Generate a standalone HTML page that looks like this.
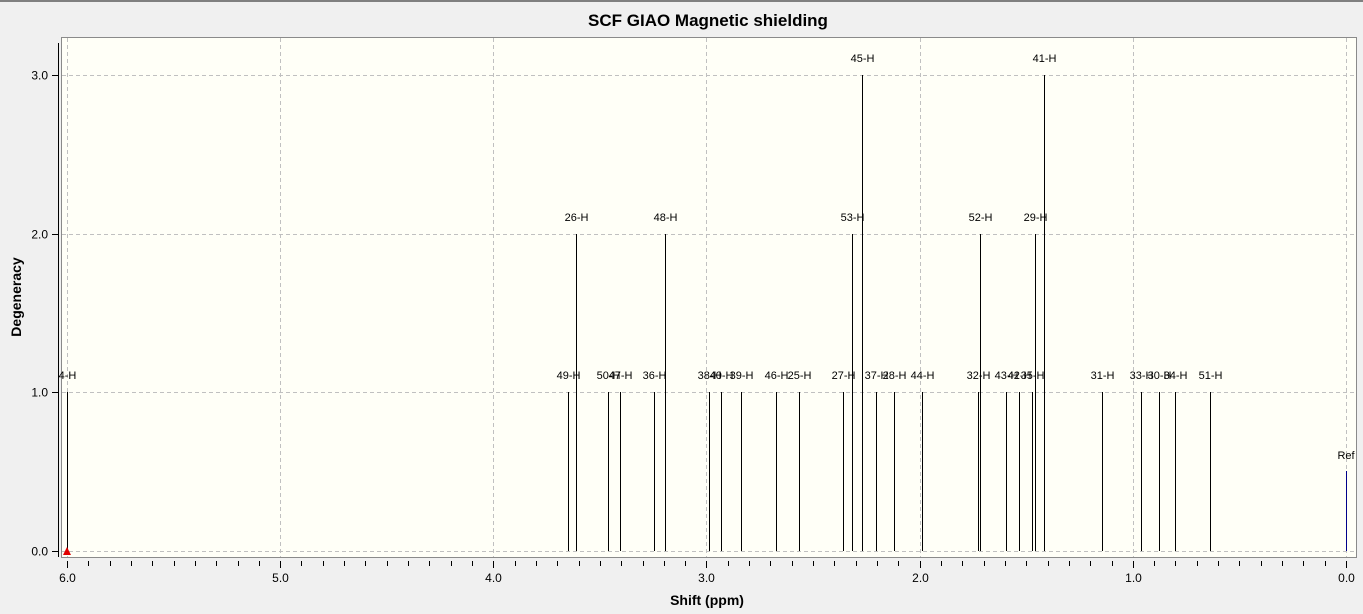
<!DOCTYPE html>
<html><head><meta charset="utf-8"><style>
html,body{margin:0;padding:0;background:#f0f0f0;}
svg{display:block;font-family:"Liberation Sans",Arial,sans-serif;}
</style></head><body>
<svg width="1363" height="614" viewBox="0 0 1363 614" xmlns="http://www.w3.org/2000/svg">
<rect x="0" y="0" width="1363" height="614" fill="#f0f0f0"/>
<rect x="0" y="0" width="1363" height="2" fill="#808080"/>
<text x="708" y="26" text-anchor="middle" font-size="17" font-weight="bold" fill="#000">SCF GIAO Magnetic shielding</text>
<rect x="61.5" y="37.5" width="1295" height="520" fill="#fffff7" stroke="#8a8a8a" stroke-width="1"/>
<g id="grid" stroke="#c0c0c0" stroke-dasharray="4,3" stroke-width="1"></g>
<line x1="58.5" y1="43" x2="58.5" y2="557" stroke="#000"/>
<g id="axes" stroke="#000"></g>
<g id="ylab" font-size="12" text-anchor="end" fill="#000"></g>
<g id="xlab" font-size="12" text-anchor="middle" fill="#000"></g>
<g id="peaks" stroke="#000" stroke-width="1"></g>
<g id="plab" font-size="11" text-anchor="middle" fill="#000"></g>
<polygon points="63,555 71,555 67,547" fill="#e00000"/>
<text x="707" y="605" text-anchor="middle" font-size="14" font-weight="bold">Shift (ppm)</text>
<text transform="translate(21,297) rotate(-90)" text-anchor="middle" font-size="14" font-weight="bold">Degeneracy</text>
</svg>
<script>
var NS="http://www.w3.org/2000/svg";
function el(p,t,a,txt){var e=document.createElementNS(NS,t);for(var k in a)e.setAttribute(k,a[k]);if(txt!=null)e.textContent=txt;document.getElementById(p).appendChild(e);}
function X(p){return 1346-p*213.17;}
function Y(v){return 550.5-v*158.5;}
for(var i=0;i<=6;i++){var x=Math.round(X(i))+0.5;el("grid","line",{x1:x,y1:38,x2:x,y2:557});el("xlab","text",{x:x,y:582},i.toFixed(1));}
for(var j=0;j<=3;j++){var y=Math.round(Y(j))+0.5;el("grid","line",{x1:62,y1:y,x2:1356,y2:y});el("axes","line",{x1:52,y1:y,x2:58,y2:y});el("ylab","text",{x:48,y:y+4},j.toFixed(1));}
for(var k=0;k<=60;k++){var x=Math.round(X(k/10))+0.5;el("axes","line",{x1:x,y1:561,x2:x,y2:(k%10==0?568:566)});}
var P=[["4-H",67,1],["49-H",568,1],["26-H",576,2],["50-H",608,1],["47-H",620,1],["36-H",654,1],["48-H",665,2],["38-H",709,1],["40-H",721,1],["39-H",741,1],["46-H",776,1],["25-H",799,1],["27-H",843,1],["53-H",852,2],["45-H",862,3],["37-H",876,1],["28-H",894,1],["44-H",922,1],["32-H",978,1],["52-H",980,2],["43-H",1006,1],["42-H",1019,1],["35-H",1032,1],["29-H",1035,2],["41-H",1044,3],["31-H",1102,1],["33-H",1141,1],["30-H",1159,1],["34-H",1175,1],["51-H",1210,1]];
P.forEach(function(p){var x=p[1]+0.5,yt=Math.round(Y(p[2]));el("peaks","line",{x1:x,y1:yt,x2:x,y2:551});el("plab","text",{x:x,y:yt-13},p[0]);});
el("peaks","line",{x1:1346.5,y1:Math.round(Y(0.5)),x2:1346.5,y2:551,stroke:"#00008b"});
el("plab","text",{x:1346,y:Math.round(Y(0.5))-12},"Ref");
</script>
</body></html>
